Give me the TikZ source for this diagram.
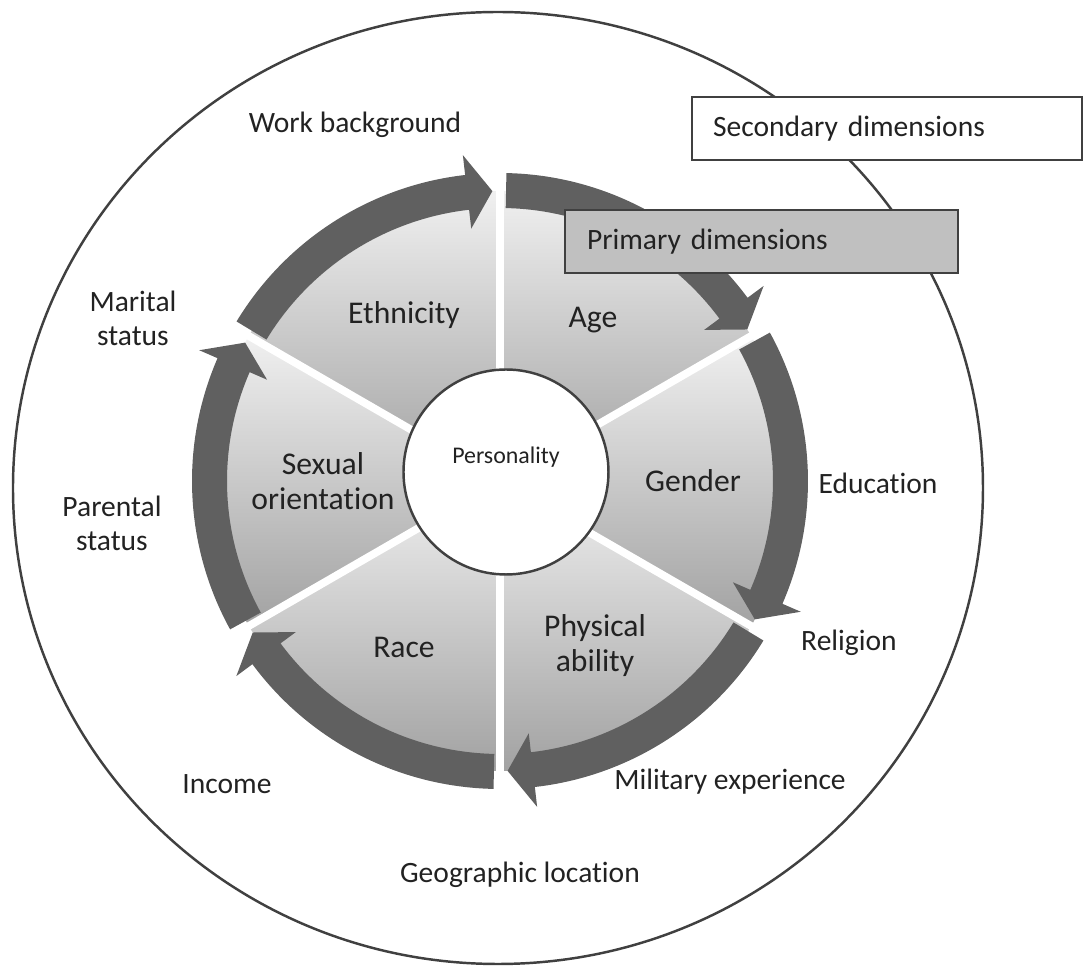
\documentclass[tikz,border=0pt]{standalone}
\usepackage{fontspec}
\setmainfont[Ligatures=NoCommon]{Carlito}
\usepackage{xcolor}
\definecolor{wedgetop}{RGB}{240,240,240}
\definecolor{wedgebot}{RGB}{162,162,162}
\definecolor{arrowcol}{RGB}{96,96,96}
\definecolor{primcol}{RGB}{192,192,192}
\definecolor{inkcol}{RGB}{34,34,34}

\begin{document}
\begin{tikzpicture}[
  x=0.1mm, y=0.1mm,
  every node/.style={text=inkcol},
  outer/.style={font=\fontsize{8.4}{9.6}\selectfont, align=center},
  inner/.style={font=\fontsize{9}{10}\selectfont, align=center},
  wedge/.style={top color=wedgetop, bottom color=wedgebot},
  gap/.style={draw=white, line width=2.2pt},
  band/.style={fill=arrowcol},
  rim/.style={draw=black!75, line width=0.7pt},
  hub/.style={circle, draw=black!75, line width=0.7pt, fill=white, minimum size=20.5mm, inner sep=0pt},
  dimbox/.style={draw=black!75, line width=0.6pt, anchor=north west, font=\fontsize{8.4}{10}\selectfont,
    minimum height=6.3mm, inner xsep=2.1mm, text width=34.8mm, align=left},
]
  \useasboundingbox (-500,-485) rectangle (583,481);

  % outer ring of secondary dimensions
  \draw[rim] (-2,-7) ellipse [x radius=485, y radius=476];

  % pie wedges
  \foreach \a in {90,30,-30,-90,-150,150}
    \path[wedge] (0,0) -- (\a:290) arc[start angle=\a, end angle=\a+60, radius=290] -- cycle;
  \foreach \a in {90,30,-30,-90,-150,150}
    \draw[gap] (0,0) -- (\a:300);

  % curved arrows, clockwise
  \foreach \a in {90,30,-30,-90,-150,150}
    \fill[band] (\a+58.8:308) arc[start angle=\a+58.8, end angle=\a+6.5, radius=308]
      -- (\a+6.5:328) -- (\a+1.5:290) -- (\a+6.5:254) -- (\a+6.5:273)
      arc[start angle=\a+6.5, end angle=\a+58.8, radius=273] -- cycle;

  % primary dimensions
  \foreach \a/\n/\t/\r in {90/eth/Ethnicity/192, 30/age/Age/186, -30/gen/Gender/193,
      -90/phy/{Physical\\ability}/190, -150/race/Race/192, 150/sex/{Sexual\\orientation}/177}
    \node[inner] (\n) at (\a+30:\r) {\t};

  % centre
  \node[hub] (hub) at (6,9) {};
  \node[font=\fontsize{6.8}{8}\selectfont] (pers) at (6,24) {Personality};

  % secondary dimensions
  \node[outer] (work) at (-145,356) {Work background};
  \node[outer] (mar)  at (-367,163) {Marital\\status};
  \node[outer] (par)  at (-388,-42) {Parental\\status};
  \node[outer] (inc)  at (-273,-303) {Income};
  \node[outer] (geo)  at (20,-394) {Geographic location};
  \node[outer] (mil)  at (230,-301) {Military experience};
  \node[outer] (rel)  at (349,-162) {Religion};
  \node[outer] (edu)  at (378,-2) {Education};

  % legend boxes
  \node[dimbox, fill=white] (sec) at (191,385) {Secondary dimensions};
  \node[dimbox, fill=primcol, text width=34.9mm, inner xsep=2.2mm] (prim) at (64,272) {Primary dimensions};
\end{tikzpicture}
\end{document}
